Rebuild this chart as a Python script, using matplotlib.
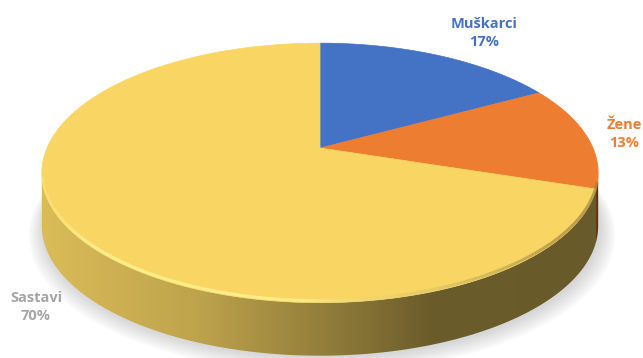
import numpy as np
import matplotlib.pyplot as plt
from matplotlib.colors import to_rgb
from matplotlib.patches import Polygon
from matplotlib.collections import LineCollection

labels = ['Muškarci', 'Žene', 'Sastavi']
values = [17, 13, 70]
colors = ['#4472C4', '#ED7D31', '#F9D664']
label_pos = [(484, 33), (624, 134), (36, 307)]

# projection of the tilted disc (pixel coords)
cx, cy = 320, 148
A, B, k = 273, 125, 0.192
T = 53


def proj(theta, z=0.0):
    t = np.radians(theta)
    u, v = np.sin(t), np.cos(t)
    w = 1 + k * v
    return cx + A * u / w, cy - B * v / w + z


def shade(x):
    return np.interp(x, [40, 200, 330, 430, 610], [0.88, 0.76, 0.58, 0.43, 0.42])


fig = plt.figure(figsize=(6.43, 3.58), dpi=100)
ax = fig.add_axes([0, 0, 1, 1])
ax.set_xlim(0, 643)
ax.set_ylim(358, 0)
ax.axis('off')

# soft shadow
th = np.linspace(0, 360, 200)
bx, by = proj(th, T)
for i in range(10):
    s = 1 + 0.006 * i
    sx = cx + (bx - cx) * s + 2
    sy = (by - cy) * s + cy + 2 + i * 0.4
    ax.add_patch(Polygon(np.c_[sx, sy], closed=True, fc='#888888', ec='none', alpha=0.035))

# slice angles, clockwise from top
bounds = np.concatenate([[0], np.cumsum(values) / np.sum(values) * 360])

# side wall (front part only), gradient clipped to each slice's wall
t_left, t_right = 101.1, 258.9
xs = np.arange(643) + 0.5
for i in range(len(values)):
    a0, a1 = max(bounds[i], t_left), min(bounds[i + 1], t_right)
    if a1 <= a0:
        continue
    a = np.linspace(a0, a1, 150)
    tx, ty = proj(a)
    bx2, by2 = proj(a[::-1], T)
    wall = Polygon(np.c_[np.r_[tx, bx2], np.r_[ty, by2]], closed=True,
                   fc='none', ec='none')
    ax.add_patch(wall)
    base = np.array(to_rgb(colors[i]))
    row = np.clip(base[None, :] * shade(xs)[:, None], 0, 1)
    img = np.repeat(row[None, :, :], 4, axis=0)
    im = ax.imshow(img, extent=(0, 643, 358, 0), aspect='auto',
                   interpolation='bilinear', zorder=1)
    im.set_clip_path(wall)

# top face
for i in range(len(values)):
    a = np.linspace(bounds[i], bounds[i + 1], 120)
    px, py = proj(a)
    pts = np.c_[np.r_[cx, px], np.r_[cy, py]]
    ax.add_patch(Polygon(pts, closed=True, fc=colors[i], ec=colors[i], lw=0.5, zorder=2))

# bevel highlight / shadow along the front rim
a = np.linspace(106, 256, 200)
px, py = proj(a)
py = py - 2.0
segs = np.stack([np.c_[px[:-1], py[:-1]], np.c_[px[1:], py[1:]]], axis=1)
xm = (px[:-1] + px[1:]) / 2
hl = np.array([1.0, 0.97, 0.6])
dk = np.array([0.6, 0.5, 0.25])
f = np.clip((xm - 300) / 250, 0, 1)[:, None]
cols = hl * (1 - f) + dk * f
alph = np.interp(xm, [42, 90, 260, 380, 600], [0.2, 0.75, 0.75, 0.35, 0.7])
cols = np.c_[cols, alph]
ax.add_collection(LineCollection(segs, colors=cols, linewidths=2.2, zorder=3))

# data labels
lab_colors = ['#4472C4', '#ED7D31', '#A5A5A5']
for lab, v, (x, y), c in zip(labels, values, label_pos, lab_colors):
    ax.text(x, y, f'{lab}\n{v}%', ha='center', va='center', color=c,
            fontsize=10.5, fontweight='bold', family='Open Sans', linespacing=1.35)

fig.savefig('out.png', dpi=100)
